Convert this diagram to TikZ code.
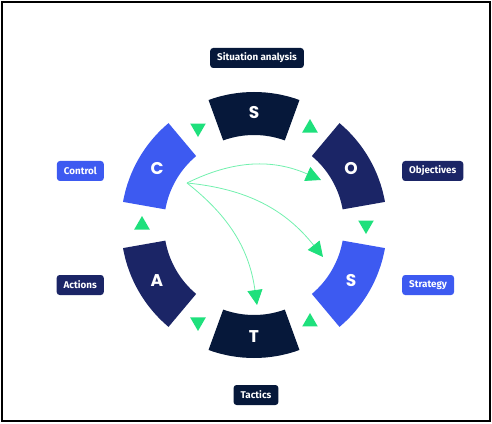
\documentclass[tikz,border=0pt]{standalone}
\usepackage{fontspec}
\setsansfont{Fira Sans}
\newfontfamily\letterfont{Poppins}
\usepackage{xcolor}
\definecolor{colNavy}{HTML}{06183A}
\definecolor{colIndigo}{HTML}{1B2566}
\definecolor{colBlue}{HTML}{3D5AF1}
\definecolor{colGreen}{HTML}{1EE07C}
\definecolor{colLine}{HTML}{72F0AE}
\usepackage{tikz}
\usetikzlibrary{arrows.meta, positioning, shapes.geometric}

\begin{document}
\begin{tikzpicture}[x=1pt, y=1pt,
	seglabel/.style={font=\letterfont\bfseries\fontsize{17}{17}\selectfont, text=white},
	tagbox/.style={rounded corners=3pt, font=\sffamily\bfseries\fontsize{9.8}{11}\selectfont, text=white, minimum height=20pt, inner xsep=7pt, inner ysep=0pt},
	flowtri/.style={regular polygon, regular polygon sides=3, fill=colGreen, minimum size=18pt, inner sep=0pt},
	jump/.style={colLine, line width=0.8pt, -{Triangle[length=15pt, width=15pt, color=colGreen]}}]
	\useasboundingbox (-254,-198) rectangle (238,225);
	\draw[line width=2pt] (-252,-196) rectangle (236,223);
	% ring segments
	\foreach \ang/\col/\txt/\nm in {90/colNavy/S/situ, 30/colIndigo/O/obj, -30/colBlue/S/strat, -90/colNavy/T/tac, 210/colIndigo/A/act, 150/colBlue/C/ctrl} {
		\fill[\col] ({\ang-20}:133) arc[start angle=\ang-20, end angle=\ang+20, radius=133]
			-- ({\ang+20}:90) arc[start angle=\ang+20, end angle=\ang-20, radius=90] -- cycle;
		\node[seglabel] (\nm) at (\ang:112) {\txt};
	}
	% small triangles between segments
	\foreach \ang/\rot [count=\i] in {120/180, 60/0, 0/180, -60/0, -120/180, 180/0}
		\node[flowtri, rotate=\rot] (tri\i) at (\ang:112) {};
	% feedback arrows from control
	\coordinate (src) at (-67,42);
	\coordinate (toObj) at (67,45);
	\coordinate (toStrat) at (69,-32);
	\coordinate (toTac) at (3,-80);
	\draw[jump] (src) to[bend left=25] (toObj);
	\draw[jump] (src) to[bend left=23] (toStrat);
	\draw[jump] (src) to[bend left=22] (toTac);
	% labels
	\node[tagbox, fill=colNavy] (tagSitu) at (3,167) {Situation analysis};
	\node[tagbox, fill=colIndigo, anchor=west] (tagObj) at (148,54) {Objectives};
	\node[tagbox, fill=colBlue, anchor=west] (tagStrat) at (148,-60) {Strategy};
	\node[tagbox, fill=colNavy] (tagTac) at (2,-170) {Tactics};
	\node[tagbox, fill=colIndigo, anchor=east] (tagAct) at (-150,-60) {Actions};
	\node[tagbox, fill=colBlue, anchor=east] (tagCtrl) at (-150,54) {Control};
\end{tikzpicture}
\end{document}
